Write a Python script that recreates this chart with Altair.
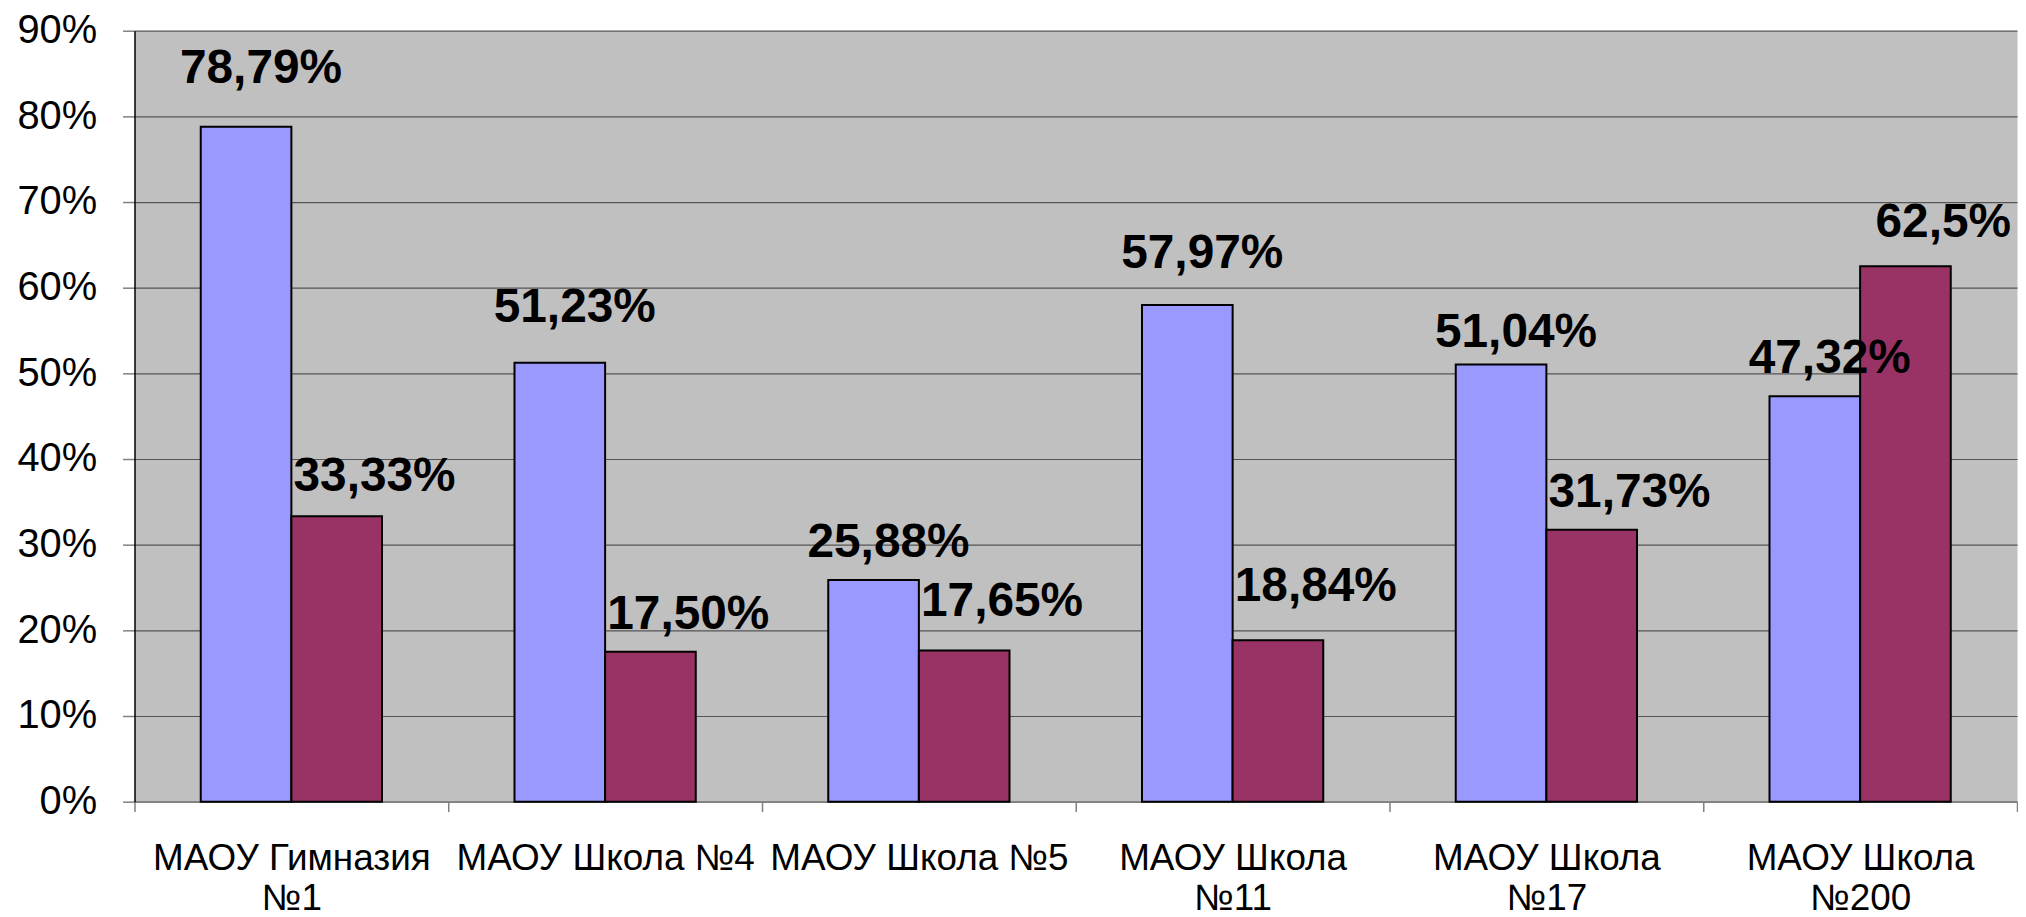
import altair as alt
import pandas as pd

categories = ["МАОУ Гимназия|№1", "МАОУ Школа №4", "МАОУ Школа №5",
              "МАОУ Школа|№11", "МАОУ Школа|№17", "МАОУ Школа|№200"]
series_names = ["Ряд1", "Ряд2"]
values_1 = [78.79, 51.23, 25.88, 57.97, 51.04, 47.32]
values_2 = [33.33, 17.50, 17.65, 18.84, 31.73, 62.5]
labels_1 = ["78,79%", "51,23%", "25,88%", "57,97%", "51,04%", "47,32%"]
labels_2 = ["33,33%", "17,50%", "17,65%", "18,84%", "31,73%", "62,5%"]
# vertical level (in %) at which each value label sits
label_level_1 = [85.5, 57.6, 30.2, 63.9, 54.7, 51.7]
label_level_2 = [37.9, 21.8, 23.3, 25.1, 36.0, 67.5]
y_ticks = [0, 10, 20, 30, 40, 50, 60, 70, 80, 90]
colors = ["#9999FF", "#993366"]

rows = []
for i, c in enumerate(categories):
    rows.append({"cat": c, "series": series_names[0], "value": values_1[i],
                 "label": labels_1[i], "level": label_level_1[i]})
    rows.append({"cat": c, "series": series_names[1], "value": values_2[i],
                 "label": labels_2[i], "level": label_level_2[i]})
df = pd.DataFrame(rows)

FONT = "Liberation Sans"
W, H = 1890, 774

x_enc = alt.X("cat:N", sort=categories, title=None,
              scale=alt.Scale(paddingInner=0, paddingOuter=0),
              axis=alt.Axis(labelExpr="split(datum.label, '|')",
                            labelFontSize=37, labelFont=FONT, labelColor="black",
                            labelLineHeight=40, labelLimit=500, labelPadding=29,
                            labelAngle=0, domainColor="#808080", domainWidth=1.5,
                            tickBand="extent", tickSize=10, tickColor="#808080",
                            tickWidth=1.5, grid=False))
xoff_enc = alt.XOffset("series:N", sort=series_names,
                       scale=alt.Scale(paddingInner=0, paddingOuter=0.731))
y_scale = alt.Scale(domain=[0, 90], nice=False)

bars = alt.Chart(df).mark_bar(stroke="black", strokeWidth=2).encode(
    x=x_enc,
    xOffset=xoff_enc,
    y=alt.Y("value:Q", scale=y_scale, title=None,
            axis=alt.Axis(values=y_ticks, labelExpr="datum.value + '%'",
                          labelFontSize=40, labelFont=FONT, labelColor="black",
                          labelPadding=26, tickSize=12, tickColor="#808080",
                          tickWidth=1.5, domainColor="black", domainWidth=1.5,
                          grid=True, gridColor="#555555", gridWidth=1.2)),
    color=alt.Color("series:N", sort=series_names,
                    scale=alt.Scale(domain=series_names, range=colors), legend=None),
)

def text_layer(name, dx):
    return alt.Chart(df).transform_filter(
        alt.datum.series == name
    ).mark_text(fontSize=48, fontWeight="bold", font=FONT, color="black",
                baseline="middle", align="center", dx=dx).encode(
        x=alt.X("cat:N", sort=categories),
        xOffset=xoff_enc,
        y=alt.Y("level:Q", scale=y_scale),
        text="label:N",
    )

chart = alt.layer(bars, text_layer(series_names[0], 15),
                  text_layer(series_names[1], 38)).properties(
    width=W, height=H,
    autosize=alt.AutoSizeParams(type="none"),
    padding={"left": 127, "top": 21, "right": 1, "bottom": 114},
).configure_view(fill="#C0C0C0", stroke="transparent")

chart.save("out.html", embed_options={"renderer": "svg", "actions": False})
